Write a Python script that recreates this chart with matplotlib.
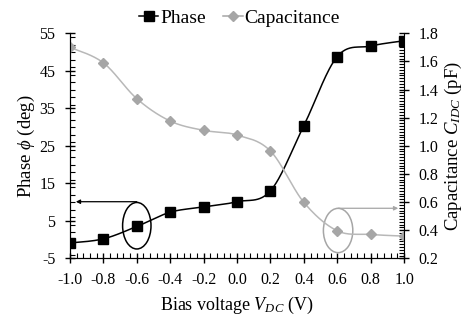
import numpy as np
import matplotlib.pyplot as plt
from matplotlib.patches import Ellipse
from matplotlib.ticker import MultipleLocator, FormatStrFormatter

voltage = [-1.0, -0.8, -0.6, -0.4, -0.2, 0.0, 0.2, 0.4, 0.6, 0.8, 1.0]
phase = [-0.9, 0.2, 3.5, 7.3, 8.7, 10.1, 13.0, 30.4, 48.8, 51.6, 53.0]
capacitance = [1.70, 1.59, 1.335, 1.176, 1.11, 1.077, 0.963, 0.598, 0.396, 0.37, 0.358]

plt.rcParams['font.family'] = 'Liberation Serif'
plt.rcParams['mathtext.fontset'] = 'custom'
plt.rcParams['mathtext.rm'] = 'Liberation Serif'
plt.rcParams['mathtext.it'] = 'Liberation Serif:italic'
plt.rcParams['axes.unicode_minus'] = False


def smooth(x, y, n=30):
    """Excel-like smoothed line through the points (Bezier, tension 1/6)"""
    p = np.column_stack([x, y]).astype(float)
    p = np.vstack([p[0], p, p[-1]])
    t = np.linspace(0, 1, n)[:, None]
    out = []
    for i in range(1, len(p) - 2):
        p0, p1, p2, p3 = p[i - 1], p[i], p[i + 1], p[i + 2]
        c1 = p1 + (p2 - p0) / 6
        c2 = p2 - (p3 - p1) / 6
        seg = ((1 - t) ** 3) * p1 + 3 * ((1 - t) ** 2) * t * c1 + 3 * (1 - t) * t ** 2 * c2 + t ** 3 * p2
        out.append(seg)
    out = np.vstack(out)
    return out[:, 0], out[:, 1]


fig = plt.figure(figsize=(4.65, 3.17), dpi=100)
ax = fig.add_axes([0.1505, 0.185, 0.7185, 0.71])
ax2 = ax.twinx()

sx, sy = smooth(voltage, phase)
ax.plot(sx, sy, color='black', lw=1.1, zorder=3)
ax.plot(voltage, phase, 's', color='black', ms=7, zorder=4)
cx, cy = smooth(voltage, capacitance)
ax2.plot(cx, cy, color='#b8b8b8', lw=1.1)
ax2.plot(voltage, capacitance, 'D', color='#a6a6a6', ms=5)

ax.set_xlim(-1.0, 1.0)
ax.set_ylim(-5, 55)
ax2.set_ylim(0.2, 1.8)
ax.xaxis.set_major_locator(MultipleLocator(0.2))
ax.xaxis.set_minor_locator(MultipleLocator(0.04))
ax.xaxis.set_major_formatter(FormatStrFormatter('%.1f'))
ax.yaxis.set_minor_locator(MultipleLocator(2))
ax.set_yticks(np.arange(-5, 56, 10))
ax2.yaxis.set_major_locator(MultipleLocator(0.2))
ax2.yaxis.set_minor_locator(MultipleLocator(0.02))
ax2.yaxis.set_major_formatter(FormatStrFormatter('%.1f'))

for a in (ax, ax2):
    a.spines['top'].set_visible(False)
    a.tick_params(which='major', direction='inout', length=7, width=1,
                  labelsize=11.5, pad=7)
    a.tick_params(which='minor', direction='in', length=3.5, width=0.8)
ax.spines['right'].set_visible(False)
ax.tick_params(axis='x', which='major', pad=6)

ax.set_xlabel('Bias voltage $V_{DC}$ (V)', fontsize=13, labelpad=5)
ax.set_ylabel('Phase $\\phi$ (deg)', fontsize=13.5, labelpad=2)
ax2.set_ylabel('Capacitance $C_{IDC}$ (pF)', fontsize=13.5, labelpad=3)

# ellipse + arrow markers that tell which axis belongs to which curve
ax.add_patch(Ellipse((-0.6, 3.7), 0.17, 12.4, fill=False, ec='black', lw=1.1, zorder=5))
ax.annotate('', xy=(-0.965, 10.1), xytext=(-0.6, 10.1),
            arrowprops=dict(arrowstyle='-|>', color='black', lw=0.9,
                            mutation_scale=6, shrinkA=0, shrinkB=0))
ax2.add_patch(Ellipse((0.605, 0.398), 0.176, 0.315, fill=False, ec='#a6a6a6', lw=1.1))
ax2.annotate('', xy=(0.965, 0.556), xytext=(0.605, 0.556),
             arrowprops=dict(arrowstyle='-|>', color='#a6a6a6', lw=0.9,
                             mutation_scale=6, shrinkA=0, shrinkB=0))

h1, = ax.plot([], [], 's-', color='black', ms=7, lw=1.1)
h2, = ax.plot([], [], 'D-', color='#a6a6a6', ms=5, lw=1.1)
fig.legend([h1, h2], ['Phase', 'Capacitance'], loc='upper center',
           bbox_to_anchor=(0.515, 1.025), ncol=2, frameon=False, fontsize=14,
           handlelength=1.0, handletextpad=0.1, columnspacing=0.9)

fig.savefig('out.png', dpi=100)
